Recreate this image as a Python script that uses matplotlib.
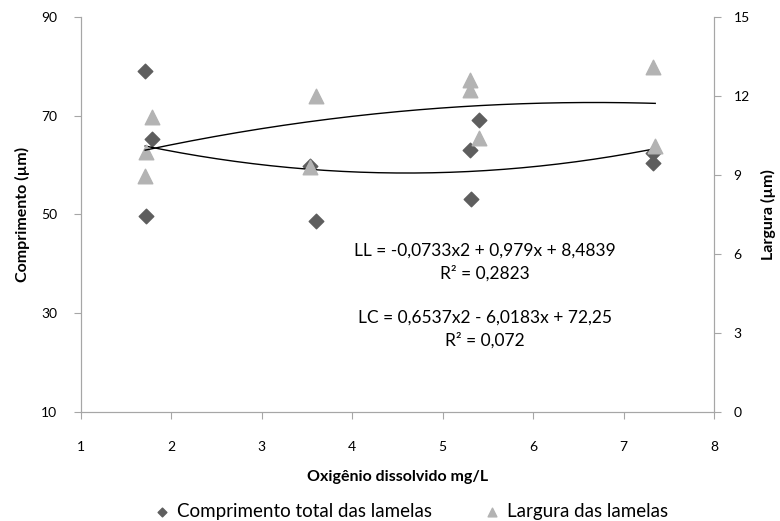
import matplotlib.pyplot as plt
import numpy as np

plt.rcParams['font.family'] = ['Lato', 'DejaVu Sans']

# Comprimento total das lamelas (left axis)
x_comp = [1.71, 1.79, 1.72, 3.60, 3.53, 5.40, 5.30, 5.31, 7.32, 7.32]
y_comp = [79.1, 65.3, 49.6, 48.7, 59.9, 69.1, 63.1, 53.1, 62.4, 60.5]

# Largura das lamelas (right axis)
x_larg = [1.79, 1.72, 1.71, 3.60, 3.53, 5.30, 5.30, 5.40, 7.32, 7.35]
y_larg = [11.19, 9.89, 8.97, 12.0, 9.31, 12.61, 12.23, 10.42, 13.11, 10.11]

# polynomial trend coefficients (from the chart equations)
ll_coef = [-0.0733, 0.979, 8.4839]
lc_coef = [0.6537, -6.0183, 72.25]

eq_text = ("LL = -0,0733x2 + 0,979x + 8,4839\nR\u00b2 = 0,2823\n\n"
           "LC = 0,6537x2 - 6,0183x + 72,25\nR\u00b2 = 0,072")

dark = '#5e5e5e'
light = '#b3b3b3'
spine = '#a6a6a6'

fig = plt.figure(figsize=(7.8, 5.21), dpi=100)
ax = fig.add_axes([0.1038, 0.2092, 0.8116, 0.7582])
ax2 = ax.twinx()

ax.scatter(x_comp, y_comp, marker='D', s=55, color=dark, zorder=3,
           label='Comprimento total das lamelas')
ax2.scatter(x_larg, y_larg, marker='^', s=110, color=light, zorder=2,
            label='Largura das lamelas')

xs = np.linspace(min(x_comp), max(x_larg), 200)
ax.plot(xs, np.polyval(lc_coef, xs), color='black', lw=1.0, zorder=4)
ax2.plot(xs, np.polyval(ll_coef, xs), color='black', lw=1.0, zorder=4)

ax.set_xlim(1, 8)
ax.set_ylim(10, 90)
ax2.set_ylim(0, 15)
ax.set_xticks(range(1, 9))
ax.set_yticks([10, 30, 50, 70, 90])
ax2.set_yticks([0, 3, 6, 9, 12, 15])

for a in (ax, ax2):
    a.spines['top'].set_visible(False)
    for s in a.spines.values():
        s.set_color(spine)
    a.tick_params(colors=spine, labelcolor='black', labelsize=10, length=5)
ax.tick_params(axis='x', pad=16)
ax.tick_params(axis='y', pad=12)
ax2.tick_params(axis='y', pad=9)

ax.set_xlabel('Oxigênio dissolvido mg/L', fontsize=11.5, fontweight='bold', labelpad=12)
ax.set_ylabel('Comprimento (µm)', fontsize=11.5, fontweight='bold', labelpad=8)
ax2.set_ylabel('Largura (µm)', fontsize=11.5, fontweight='bold', labelpad=8)

ax.text(0.638, 0.428, eq_text, transform=ax.transAxes, ha='center', va='top',
        fontsize=12.5, linespacing=1.47)

h1, l1 = ax.get_legend_handles_labels()
h2, l2 = ax2.get_legend_handles_labels()
fig.legend(h1 + h2, l1 + l2, loc='lower center', ncol=2, frameon=False,
           fontsize=13.5, handletextpad=-0.2, columnspacing=2.2,
           bbox_to_anchor=(0.52, -0.03), markerscale=0.6)

fig.savefig('out.png', dpi=100)
